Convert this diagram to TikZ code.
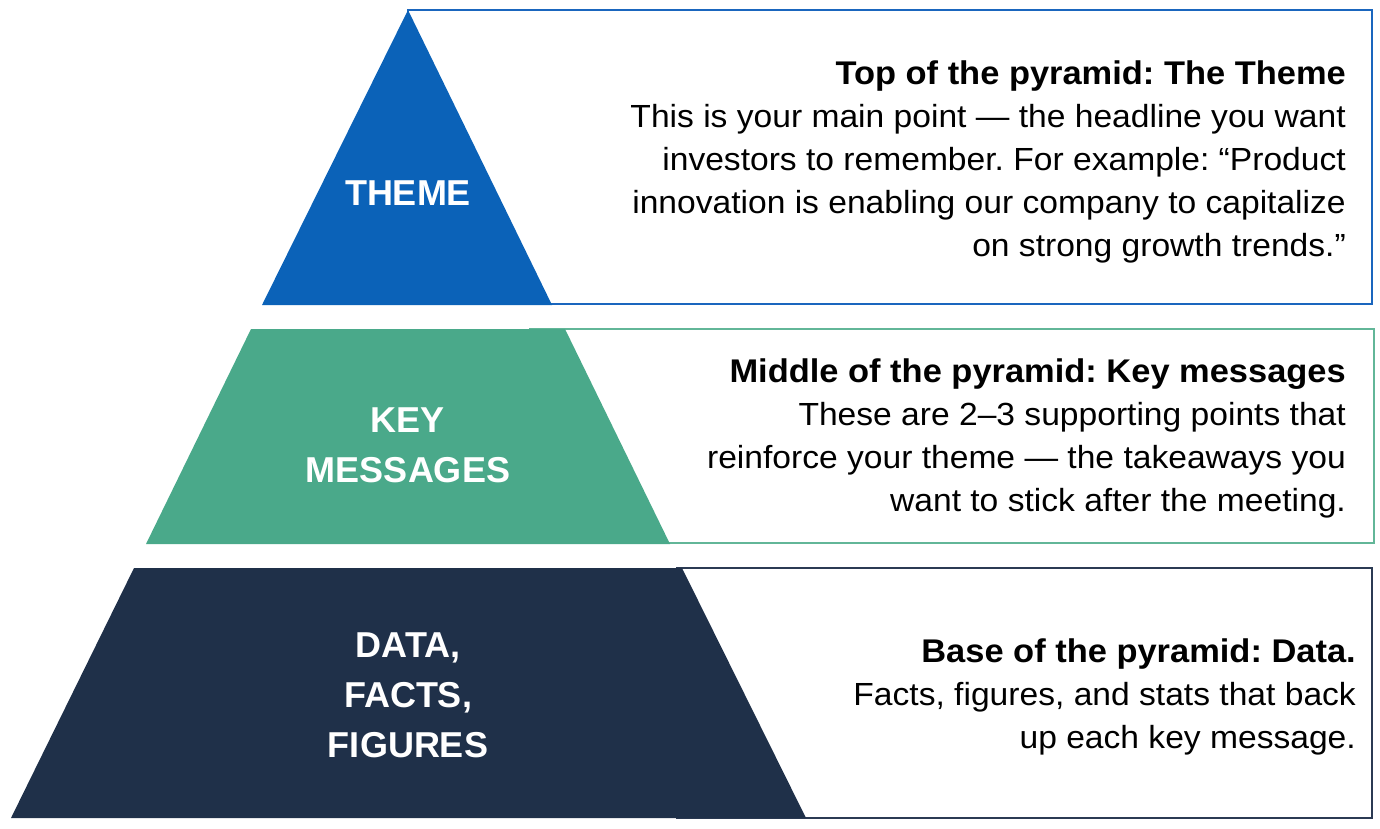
\documentclass[tikz,border=0pt]{standalone}
\usepackage{fontspec}
\setmainfont{Liberation Sans}
\newfontfamily\bodyfont[FakeStretch=1.05]{Liberation Sans}
\definecolor{themeblue}{HTML}{0B62B8}
\definecolor{keygreen}{HTML}{4AA98A}
\definecolor{datanavy}{HTML}{1F3049}
\definecolor{themeline}{HTML}{1A66BE}
\definecolor{keyline}{HTML}{62B698}
\definecolor{dataline}{HTML}{2B3A53}
\frenchspacing

\begin{document}
\begin{tikzpicture}[x=1pt, y=-1pt,
	boxline/.style = {line width=2pt, fill=white},
	tierlabel/.style = {text=white, align=center, inner sep=0pt, font=\bfseries\fontsize{36}{50}\selectfont},
	tiertext/.style = {align=right, anchor=north east, inner sep=0pt, font=\bodyfont\fontsize{32}{43}\selectfont}]
	\def\titlefont{\bfseries\fontsize{32.8}{43}\selectfont}
	
	\useasboundingbox (0,0) rectangle (1380,828);
	
	\draw [boxline, draw=themeline] (408,10) rectangle (1372,304);
	\draw [boxline, draw=keyline] (530,329) rectangle (1374,543);
	\draw [boxline, draw=dataline] (677,568) rectangle (1372,818);
	
	\fill [themeblue] (408,10) -- (552,305) -- (262,305) -- cycle;
	\fill [keygreen] (251,329) -- (565,329) -- (670,544) -- (146,544) -- cycle;
	\fill [datanavy] (134,568) -- (682,568) -- (806,818) -- (11,818) -- cycle;
	
	\node [tierlabel] (theme) at (408,193) {THEME};
	\node [tierlabel] (key) at (408,445) {KEY\\MESSAGES};
	\node [tierlabel] (data) at (408,695) {DATA,\\FACTS,\\FIGURES};
	
	\node [tiertext] (themetext) at (1346,61) {{\titlefont Top of the pyramid: The Theme}\\
		This is your main point — the headline you want\\
		investors to remember. For example: “Product\\
		innovation is enabling our company to capitalize\\
		on strong growth trends.”};
	\node [tiertext] (keytext) at (1346,359) {{\titlefont Middle of the pyramid: Key messages}\\
		These are 2–3 supporting points that\\
		reinforce your theme — the takeaways you\\
		want to stick after the meeting.};
	\node [tiertext] (datatext) at (1356,639) {{\titlefont Base of the pyramid: Data.}\\
		Facts, figures, and stats that back\\
		up each key message.};
\end{tikzpicture}
\end{document}
